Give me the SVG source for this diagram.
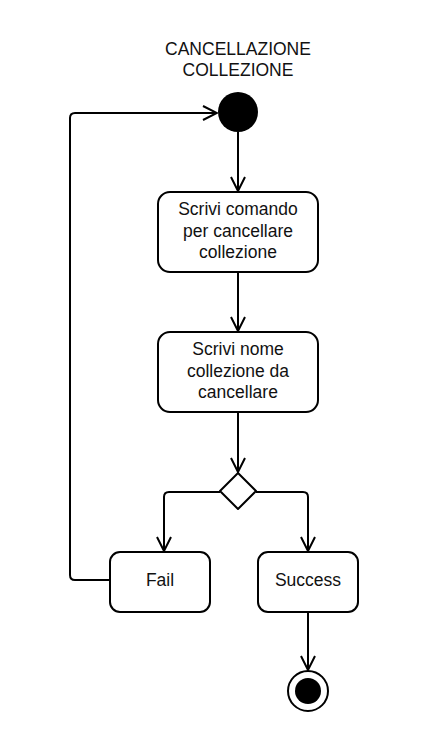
<svg xmlns="http://www.w3.org/2000/svg" width="447" height="747" viewBox="0 0 447 747">
<style>
.box{fill:#fff;stroke:#000;stroke-width:2}
.edge{fill:none;stroke:#000;stroke-width:2;stroke-linejoin:round}
text{font-family:"Liberation Sans",Arial,sans-serif;font-size:17.5px;fill:#111;text-anchor:middle}
</style>
<defs>
<marker id="arr" viewBox="0 0 16 16" refX="15" refY="8" markerWidth="16" markerHeight="16" markerUnits="userSpaceOnUse" orient="auto">
<path d="M1,1 L15,8 L1,15" fill="none" stroke="#000" stroke-width="2"/>
</marker>
</defs>
<rect width="447" height="747" fill="#fff"/>
<g id="title">
<text x="238" y="55">CANCELLAZIONE</text>
<text x="238" y="76">COLLEZIONE</text>
</g>
<g id="connectors">
<path class="edge" d="M238,132 L238,191" marker-end="url(#arr)"/>
<path class="edge" d="M238,272 L238,331" marker-end="url(#arr)"/>
<path class="edge" d="M238,412 L238,472" marker-end="url(#arr)"/>
<path class="edge" d="M220,492 L169,492 Q164,492 164,497 L164,551" marker-end="url(#arr)"/>
<path class="edge" d="M256,492 L303,492 Q308,492 308,497 L308,551" marker-end="url(#arr)"/>
<path class="edge" d="M308,612 L308,670" marker-end="url(#arr)"/>
<path class="edge" d="M110,580 L75,580 Q70,580 70,575 L70,118 Q70,113 75,113 L217,113" marker-end="url(#arr)"/>
</g>
<g id="start"><circle cx="238" cy="112" r="20" fill="#000"/></g>
<g id="n1">
<rect class="box" x="158" y="192" width="160" height="80" rx="12"/>
<text x="238" y="215">Scrivi comando</text>
<text x="238" y="237">per cancellare</text>
<text x="238" y="258">collezione</text>
</g>
<g id="n2">
<rect class="box" x="158" y="332" width="160" height="80" rx="12"/>
<text x="238" y="355">Scrivi nome</text>
<text x="238" y="377">collezione da</text>
<text x="238" y="398">cancellare</text>
</g>
<g id="decision">
<path class="box" d="M238,473 L256,491 L238,509 L220,491 Z" stroke-linejoin="round"/>
</g>
<g id="fail">
<rect class="box" x="110" y="552" width="100" height="60" rx="10"/>
<text x="160" y="586">Fail</text>
</g>
<g id="success">
<rect class="box" x="258" y="552" width="100" height="60" rx="10"/>
<text x="308" y="586">Success</text>
</g>
<g id="end">
<circle cx="308" cy="691" r="20" fill="#fff" stroke="#000" stroke-width="2"/>
<circle cx="308" cy="691" r="13" fill="#000"/>
</g>
</svg>
